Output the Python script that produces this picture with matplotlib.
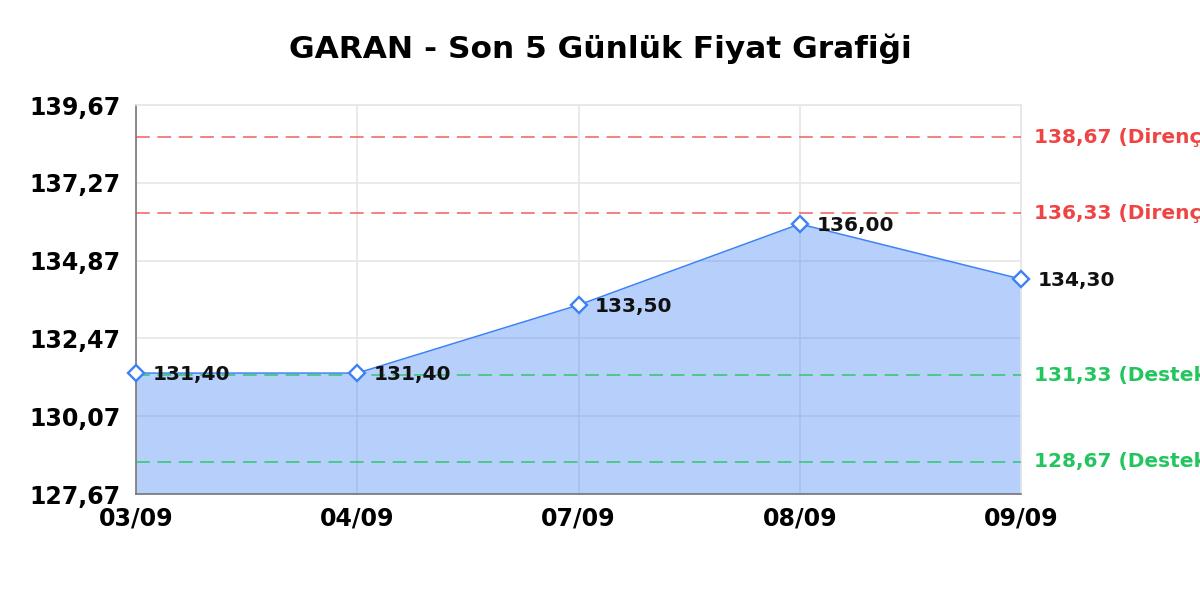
import matplotlib
matplotlib.use('Agg')
import matplotlib.pyplot as plt

dates = ['03/09', '04/09', '07/09', '08/09', '09/09']
prices = [131.40, 131.40, 133.50, 136.00, 134.30]
resistance = [138.67, 136.33]
support = [131.33, 128.67]
y_ticks = [127.67, 130.07, 132.47, 134.87, 137.27, 139.67]

BLUE = '#3b82f6'
RED = '#ef4444'
GREEN = '#22c55e'


def tr(v):
    return f'{v:.2f}'.replace('.', ',')


plt.rcParams['font.family'] = ['DejaVu Sans']
fig = plt.figure(figsize=(12, 6), dpi=100)
ax = fig.add_axes([136 / 1200, 1 - 494 / 600, (1021 - 136) / 1200, (494 - 105) / 600])

x = list(range(len(dates)))
ax.fill_between(x, prices, y_ticks[0], color=BLUE, alpha=0.37, linewidth=0, zorder=2)
ax.plot(x, prices, color=BLUE, lw=1.1, zorder=4)
ax.plot(x, prices, linestyle='none', marker='D', markersize=8, markerfacecolor='white',
        markeredgecolor=BLUE, markeredgewidth=1.7, zorder=5, clip_on=False)

for lvl in resistance:
    ax.axhline(lvl, color=RED, alpha=0.85, lw=1.1, linestyle=(0, (9, 5)), zorder=3)
    ax.annotate(f'{tr(lvl)} (Direnç)', xy=(1, lvl), xycoords=('axes fraction', 'data'),
                xytext=(9, 0), textcoords='offset points', va='center', ha='left',
                color=RED, fontsize=14.5, fontweight='bold', annotation_clip=False)
for lvl in support:
    ax.axhline(lvl, color=GREEN, alpha=0.9, lw=1.1, linestyle=(0, (9, 5)), zorder=3)
    ax.annotate(f'{tr(lvl)} (Destek)', xy=(1, lvl), xycoords=('axes fraction', 'data'),
                xytext=(9, 0), textcoords='offset points', va='center', ha='left',
                color=GREEN, fontsize=14.5, fontweight='bold', annotation_clip=False)

for xi, p in zip(x, prices):
    ax.annotate(tr(p), xy=(xi, p), xytext=(12, -1), textcoords='offset points',
                va='center', ha='left', fontsize=14.5, fontweight='bold', color='#111111',
                zorder=6, annotation_clip=False)

ax.set_xlim(0, len(dates) - 1)
ax.set_ylim(y_ticks[0], y_ticks[-1])
ax.set_xticks(x)
ax.set_xticklabels(dates)
ax.set_yticks(y_ticks)
ax.set_yticklabels([tr(v) for v in y_ticks])
ax.tick_params(axis='both', length=0, labelsize=17)
ax.tick_params(axis='y', pad=11)
ax.tick_params(axis='x', pad=9)
for lbl in ax.get_xticklabels() + ax.get_yticklabels():
    lbl.set_fontweight('bold')

ax.grid(True, color='#e6e6e6', lw=1.2, zorder=1)
ax.set_axisbelow(True)
for side in ['top', 'right']:
    ax.spines[side].set_color('#e6e6e6')
    ax.spines[side].set_linewidth(1.2)
for side in ['left', 'bottom']:
    ax.spines[side].set_color('#777777')
    ax.spines[side].set_linewidth(1.2)

fig.text(0.5, 1 - 49 / 600, 'GARAN - Son 5 Günlük Fiyat Grafiği', ha='center', va='center',
         fontsize=22.5, fontweight='bold')

fig.savefig('out.png', dpi=100)
